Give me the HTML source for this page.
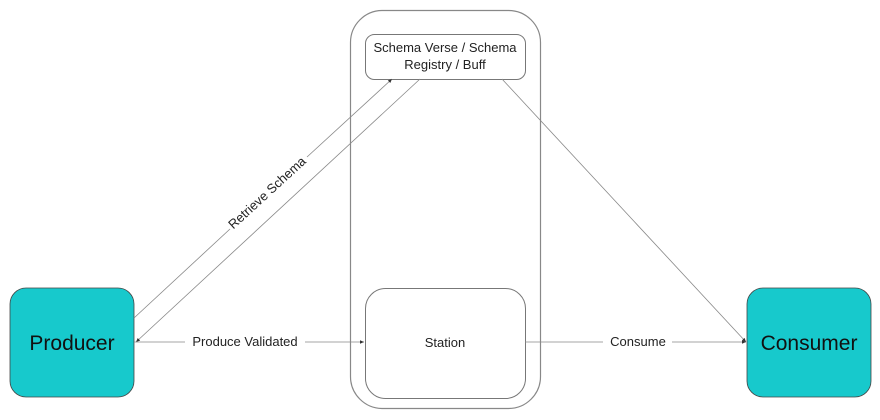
<!DOCTYPE html>
<html><head><style>body{margin:0;background:#fff;}</style></head><body>
<svg width="880" height="415" xmlns="http://www.w3.org/2000/svg" font-family="'Liberation Sans',sans-serif">
<defs><marker id="a" markerWidth="6" markerHeight="6" refX="5" refY="3" orient="auto"><path d="M0,0.8 L5,3 L0,5.2z" fill="#333"/></marker></defs>
<rect x="350.5" y="10.5" width="190" height="398" rx="32" fill="none" stroke="#888" stroke-width="1.2"/>
<rect x="365.5" y="34.5" width="160" height="45" rx="9" fill="#fff" stroke="#777"/>
<text x="445" y="52" font-size="13" text-anchor="middle" fill="#222">Schema Verse / Schema</text>
<text x="445" y="69" font-size="13" text-anchor="middle" fill="#222">Registry / Buff</text>
<rect x="365.5" y="288.5" width="160" height="110" rx="20" fill="#fff" stroke="#777"/>
<text x="445" y="347" font-size="13" text-anchor="middle" fill="#222">Station</text>
<rect x="10" y="288" width="124" height="109" rx="16" fill="#17c9cc" stroke="#444" stroke-width="0.8"/>
<text x="72" y="350" font-size="21" text-anchor="middle" fill="#111">Producer</text>
<rect x="747" y="288" width="124" height="109" rx="16" fill="#17c9cc" stroke="#444" stroke-width="0.8"/>
<text x="809" y="350" font-size="21" text-anchor="middle" fill="#111">Consumer</text>
<g stroke="#888" stroke-width="0.8" fill="none">
<path d="M134,318 L230,229" /><path d="M307,157 L392,79" marker-end="url(#a)"/>
<path d="M420,79 L136,342" marker-end="url(#a)"/>
<path d="M134,342 L185,342"/><path d="M305,342 L364,342" marker-end="url(#a)"/>
<path d="M525,342 L603,342"/><path d="M672,342 L746,342" marker-end="url(#a)"/>
<path d="M502,79 L746,342" marker-end="url(#a)"/>
</g>
<text x="245" y="346" font-size="13" text-anchor="middle" fill="#222">Produce Validated</text>
<text x="638" y="346" font-size="13" text-anchor="middle" fill="#222">Consume</text>
<text transform="translate(270,196) rotate(-42.5)" font-size="13" text-anchor="middle" fill="#222">Retrieve Schema</text>
</svg>
</body></html>
